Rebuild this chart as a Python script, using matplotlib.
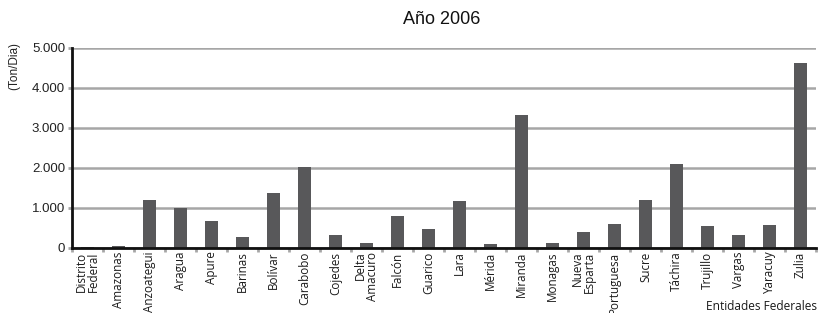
import matplotlib.pyplot as plt
import numpy as np

# datos: toneladas por dia, año 2006
entidades = ["Distrito\nFederal", "Amazonas", "Anzoategui", "Aragua", "Apure",
             "Barinas", "Bolívar", "Carabobo", "Cojedes", "Delta\nAmacuro",
             "Falcón", "Guarico", "Lara", "Mérida", "Miranda", "Monagas",
             "Nueva\nEsparta", "Portuguesa", "Sucre", "Táchira", "Trujillo",
             "Vargas", "Yaracuy", "Zulia"]
valores = [30, 55, 1205, 1000, 680, 280, 1380, 2025, 330, 130,
           805, 480, 1180, 105, 3330, 130, 405, 605, 1200, 2105,
           555, 330, 580, 4630]
yticks = [0, 1000, 2000, 3000, 4000, 5000]
ylabels = ["0", "1.000", "2.000", "3.000", "4.000", "5.000"]

W, H = 819, 313
fig = plt.figure(figsize=(W / 100, H / 100), dpi=100)
ax = fig.add_axes([72 / W, 1 - 248 / H, (816 - 72) / W, 200 / H])

x = np.arange(len(entidades))
ax.bar(x, valores, width=0.42, color="#58585a", zorder=3)

ax.set_xlim(-0.5, len(entidades) - 0.5)
ax.set_ylim(0, 5000)
ax.set_yticks(yticks)
ax.set_yticklabels(ylabels, fontsize=9.5, family="Liberation Sans", color="#222222")
ax.yaxis.grid(True, color="#a6a6a6", linewidth=1.8, zorder=0)

# ticks de categoria en los bordes
ax.set_xticks(np.arange(len(entidades) + 1) - 0.5)
ax.set_xticklabels([])
ax.tick_params(axis="x", direction="out", length=3, width=2, color="#a6a6a6")
ax.tick_params(axis="y", direction="out", length=3, width=2, color="#a6a6a6", pad=2)

for i, nombre in enumerate(entidades):
    ax.text(i, -90, nombre, rotation=90, ha="center", va="top",
            multialignment="right", fontsize=8.4, family="Open Sans",
            color="#1a1a1a", linespacing=0.85)

for s in ["top", "right"]:
    ax.spines[s].set_visible(False)
for s in ["left", "bottom"]:
    ax.spines[s].set_linewidth(2)
    ax.spines[s].set_color("#111111")
    ax.spines[s].set_zorder(4)

fig.text(442 / W, 1 - 20 / H, "Año 2006", ha="center", va="center",
         fontsize=13, family="Liberation Sans", color="#111111")
fig.text(14 / W, 1 - 66 / H, "(Ton/Dia)", rotation=90, ha="center", va="center",
         fontsize=8.5, family="Liberation Sans", color="#222222")
fig.text(817 / W, 1 - 307 / H, "Entidades Federales", ha="right", va="center",
         fontsize=8.6, family="Open Sans", color="#1a1a1a")

fig.savefig("out.png", dpi=100)
